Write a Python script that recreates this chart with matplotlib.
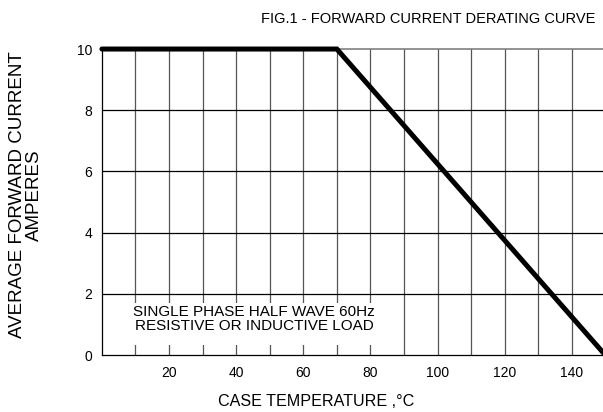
import matplotlib
matplotlib.use('Agg')
import matplotlib.pyplot as plt
import matplotlib.patches as mpatches
import numpy as np

# -[Data]--------------------------------------------------------------------
temp_c  = [0, 70, 150]          # case temperature [C]
current = [10, 10, 0]           # average forward current [A]
xticks  = [20, 40, 60, 80, 100, 120, 140]
yticks  = [0, 2, 4, 6, 8, 10]
xgrid   = np.arange(10, 150, 10)
ygrid   = [2, 4, 6, 8]

plt.rcParams['font.family'] = ['Liberation Sans', 'DejaVu Sans']

fig = plt.figure(figsize=(6.03, 4.12), dpi=100)
ax = fig.add_axes([0.169, 0.138, 0.831, 0.743])
ax.set_xlim(0, 149.3)
ax.set_ylim(0, 10)

# grid
for xv in xgrid:
    ax.axvline(xv, color='#555555', lw=0.9, zorder=1)
for yv in ygrid:
    ax.axhline(yv, color='black', lw=0.9, zorder=1)

# mask behind the note
ax.add_patch(mpatches.Rectangle((2, 0.33), 84, 1.37, facecolor='white',
                                edgecolor='none', zorder=2))
ax.text(45.3, 1.40, "SINGLE PHASE HALF WAVE 60Hz", ha='center', va='center',
        fontsize=11, zorder=3)
ax.text(45.3, 0.94, "RESISTIVE OR INDUCTIVE LOAD", ha='center', va='center',
        fontsize=11, zorder=3)

# curve
ax.plot(temp_c, current, color='black', lw=3.6, solid_capstyle='round',
        solid_joinstyle='miter', zorder=4, clip_on=False)

ax.set_xticks(xticks)
ax.set_yticks(yticks)
ax.tick_params(length=0, labelsize=10, pad=8)
ax.tick_params(axis='y', pad=7)
ax.spines['right'].set_visible(False)
ax.spines['top'].set_color('#808080')
ax.spines['top'].set_linewidth(1.2)
ax.spines['left'].set_linewidth(0.9)
ax.spines['bottom'].set_linewidth(0.9)

fig.text(0.988, 0.955, "FIG.1 - FORWARD CURRENT DERATING CURVE",
         ha='right', va='center', fontsize=10.5)
fig.text(0.524, 0.026, "CASE TEMPERATURE ,\u00b0C",
         ha='center', va='center', fontsize=11.6)
fig.text(0.043, 0.527, "AVERAGE FORWARD CURRENT\nAMPERES", ha='center',
         va='center', rotation=90, fontsize=13.5, linespacing=1.02)

fig.savefig("out.png", dpi=100)
